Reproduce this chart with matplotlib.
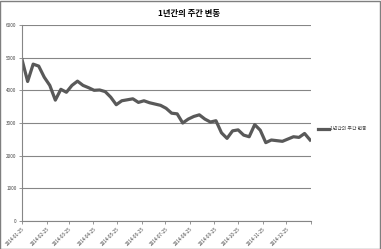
import matplotlib.pyplot as plt
import pandas as pd
from matplotlib.patches import Rectangle

plt.rcParams['font.family'] = ['Noto Sans CJK KR', 'DejaVu Sans']

title = '1년간의 주간 변동'
series_name = '1년간의 주간 변동'

# 주간 데이터 (2014-01-25 부터 7일 간격)
start_date = '2014-01-25'
values = [4930, 4270, 4800, 4740, 4400, 4150, 3700, 4030, 3940, 4150,
          4280, 4150, 4080, 4000, 4010, 3960, 3790, 3560, 3680, 3710,
          3740, 3630, 3680, 3620, 3580, 3540, 3450, 3300, 3280, 3000,
          3120, 3200, 3250, 3120, 3030, 3070, 2700, 2530, 2760, 2790,
          2630, 2580, 2950, 2780, 2400, 2480, 2460, 2440, 2510, 2580,
          2560, 2680, 2480]
dates = pd.date_range(start_date, periods=len(values), freq='7D')

tick_dates = pd.date_range('2014-01-25', '2015-01-25', freq=pd.DateOffset(months=1))
tick_labels = [d.strftime('%Y-%m-%d') for d in tick_dates[:-1]] + ['']
y_ticks = [0, 1000, 2000, 3000, 4000, 5000, 6000]

fig = plt.figure(figsize=(3.81, 2.49), dpi=100)
ax = fig.add_axes([0.058, 0.112, 0.758, 0.788])

gray = '#868686'
ax.plot(dates, values, color='#595959', lw=2.3, solid_joinstyle='round', label=series_name)

ax.set_ylim(0, 6000)
ax.set_xlim(tick_dates[0], tick_dates[-1])
ax.set_yticks(y_ticks)
ax.set_yticklabels([str(v) for v in y_ticks], fontsize=3.3, color='#404040')
ax.set_xticks(tick_dates)
ax.set_xticklabels(tick_labels, rotation=45, ha='right', rotation_mode='anchor',
                   fontsize=3.3, color='#404040')
ax.grid(axis='y', color=gray, lw=0.8)
ax.set_axisbelow(True)
for s in ['top', 'right']:
    ax.spines[s].set_visible(False)
for s in ['left', 'bottom']:
    ax.spines[s].set_color(gray)
    ax.spines[s].set_linewidth(0.8)
ax.tick_params(axis='both', length=2.5, width=0.6, color=gray, pad=1.5)

fig.text(0.495, 0.945, title, ha='center', va='center', fontsize=6, fontweight='bold')

ax.legend(loc='center left', bbox_to_anchor=(1.01, 0.47), frameon=False,
          fontsize=3.5, handlelength=2.2, handletextpad=0.3, labelcolor='#404040')

fig.patches.append(Rectangle((0.001, 0.002), 0.997, 0.995, transform=fig.transFigure,
                             fill=False, edgecolor='#7f7f7f', lw=1))

fig.savefig('out.png', dpi=100)
